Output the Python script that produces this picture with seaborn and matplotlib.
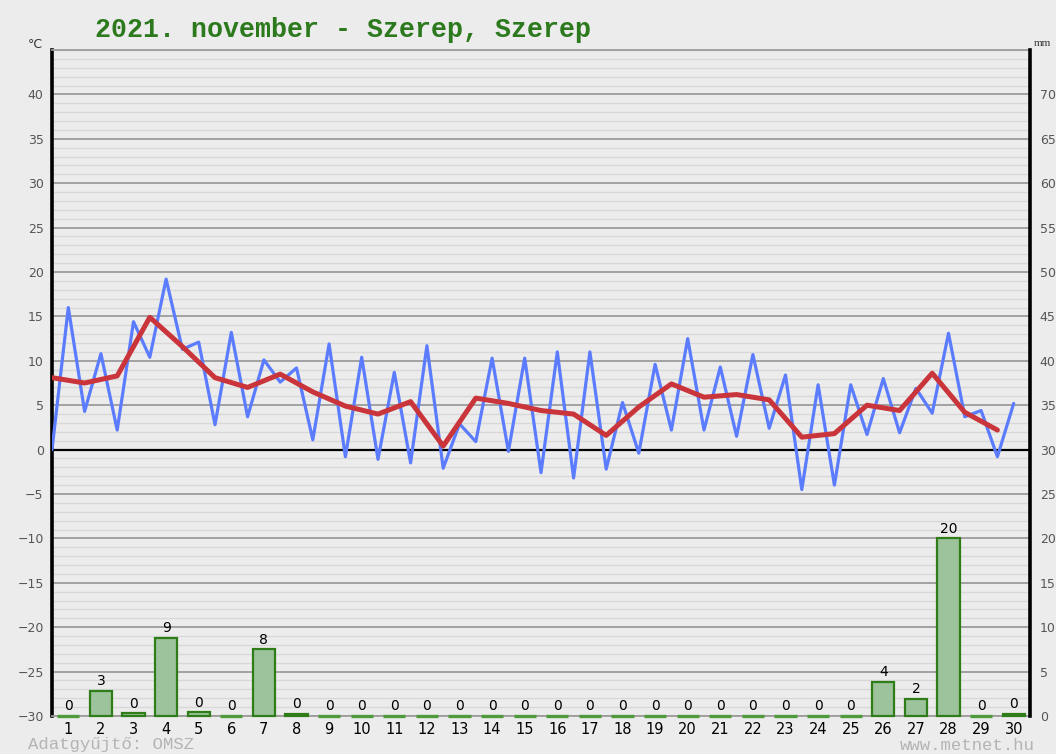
import numpy as np
import matplotlib
matplotlib.use("Agg")
import matplotlib.pyplot as plt
from matplotlib.ticker import MultipleLocator
import seaborn as sns

# 2021. november, Szerep - napi adatok
days = np.arange(1, 31)
t_min = [0.0, 4.3, 2.2, 10.4, 11.3, 2.8, 3.7, 7.6, 1.1, -0.8,
         -1.1, -1.5, -2.1, 0.9, -0.2, -2.6, -3.2, -2.2, -0.4, 2.2,
         2.2, 1.5, 2.4, -4.5, -4.0, 1.7, 1.9, 4.1, 3.7, -0.8]
t_max = [16.0, 10.8, 14.4, 19.2, 12.1, 13.2, 10.1, 9.2, 11.9, 10.4,
         8.7, 11.7, 2.9, 10.3, 10.3, 11.0, 11.0, 5.3, 9.6, 12.5,
         9.3, 10.7, 8.4, 7.3, 7.3, 8.0, 6.9, 13.1, 4.4, 5.2]
t_mean = [8.1, 7.5, 8.3, 14.9, 11.6, 8.1, 7.0, 8.5, 6.5, 4.9,
          4.0, 5.4, 0.4, 5.8, 5.2, 4.4, 4.0, 1.6, 4.8, 7.4,
          5.9, 6.2, 5.6, 1.4, 1.8, 5.0, 4.4, 8.6, 4.2, 2.2]
precip = [0, 2.8, 0.3, 8.8, 0.4, 0, 7.5, 0.2, 0, 0,
          0, 0, 0, 0, 0, 0, 0, 0, 0, 0,
          0, 0, 0, 0, 0, 3.8, 1.9, 20.0, 0, 0.2]

temp_ticks = list(range(-30, 45, 5))
mm_ticks = list(range(0, 75, 5))

bg = "#ececec"
sns.set_theme(style="white", rc={"figure.facecolor": bg, "axes.facecolor": bg})
plt.rcParams["font.family"] = ["DejaVu Sans"]

fig = plt.figure(figsize=(10.56, 7.54), dpi=100)
ax = fig.add_axes([52 / 1056, 1 - 716 / 754, 978 / 1056, 666 / 754])

# min/max felváltva, félnaponként
x_blue = np.ravel(np.column_stack([days - 0.5, days]))
y_blue = np.ravel(np.column_stack([t_min, t_max]))
sns.lineplot(x=x_blue, y=y_blue, ax=ax, color="#5b7cff", linewidth=2.3, zorder=3)
sns.lineplot(x=days - 0.5, y=t_mean, ax=ax, color="#c9353a", linewidth=3.6, zorder=4)
ax.axhline(0, color="black", linewidth=1.6, zorder=2)

ax.set_xlim(0.5, 30.5)
ax.set_ylim(-30, 45)
ax.set_yticks(temp_ticks)
ax.yaxis.set_minor_locator(MultipleLocator(1))
ax.grid(which="minor", axis="y", color="#d8d8d8", linewidth=1.0, zorder=0)
ax.grid(which="major", axis="y", color="#9c9c9c", linewidth=1.3, zorder=1)
ax.set_axisbelow(True)
ax.set_xticks(days)
ax.set_xticklabels([str(d) for d in days], fontsize=10.5, color="black")
ax.tick_params(axis="x", length=0, pad=4)
ax.tick_params(axis="y", which="both", length=0, pad=6, labelsize=9, labelcolor="#555555")
ax.set_xlabel("")
ax.set_ylabel("")
for side in ["top", "bottom"]:
    ax.spines[side].set_color("#9c9c9c")
    ax.spines[side].set_linewidth(1.3)
ax.spines["left"].set_color("black")
ax.spines["left"].set_linewidth(2.6)
ax.spines["right"].set_visible(False)

# csapadék a jobb oldali mm tengelyen
ax2 = ax.twinx()
sns.barplot(x=days, y=precip, native_scale=True, ax=ax2, color="#9cc39b",
            saturation=1, edgecolor="#2f7d18", linewidth=1.6, width=0.68,
            errorbar=None)
for bar in ax2.containers[0]:
    bar.set_clip_on(False)
    if bar.get_height() == 0:
        bar.set_edgecolor("#4f9a3a")
        bar.set_linewidth(2.4)
ax2.bar_label(ax2.containers[0], labels=[str(int(round(p))) for p in precip],
              padding=2, fontsize=10, color="black")
ax2.set_ylim(0, 75)
ax2.set_xlim(0.5, 30.5)
ax2.set_yticks(mm_ticks)
ax2.tick_params(axis="y", length=0, pad=7, labelsize=9, labelcolor="#555555")
ax2.set_xlabel("")
ax2.set_ylabel("")
ax2.xaxis.set_visible(False)
for side in ["top", "bottom", "left"]:
    ax2.spines[side].set_visible(False)
ax2.spines["right"].set_color("black")
ax2.spines["right"].set_linewidth(2.6)

fig.text(95 / 1056, 1 - 30 / 754, "2021. november - Szerep, Szerep",
         family="Liberation Mono", fontweight="bold", fontsize=19.2,
         color="#2d7a1e", va="center", ha="left")
fig.text(28 / 1056, 1 - 45 / 754, "°C", fontsize=9, color="#333333", va="center")
fig.text(1034 / 1056, 1 - 44 / 754, "mm", fontsize=8, color="#333333", va="center",
         family="Liberation Serif")
fig.text(28 / 1056, 1 - 745 / 754, "Adatgyűjtő: OMSZ", family="Liberation Mono",
         fontsize=12.5, color="#b4b4b4", va="center", ha="left")
fig.text(1035 / 1056, 1 - 745 / 754, "www.metnet.hu", family="Liberation Mono",
         fontsize=12.5, color="#b4b4b4", va="center", ha="right")

fig.savefig("out.png", dpi=100, facecolor=bg)
